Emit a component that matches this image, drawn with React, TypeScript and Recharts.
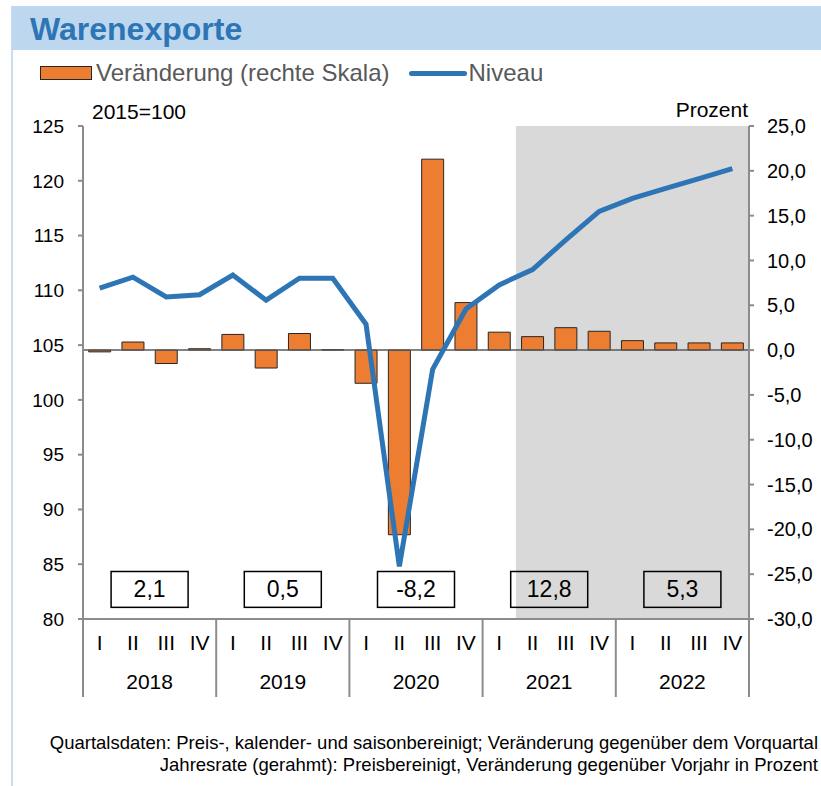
import {
  ComposedChart,
  Bar,
  Line,
  XAxis,
  YAxis,
  ReferenceArea,
  ReferenceLine,
} from 'recharts';

const years = ['2018', '2019', '2020', '2021', '2022'];
const quarters = ['I', 'II', 'III', 'IV'];

// Niveau, 2015=100 (linke Skala)
const niveau = [
  110.2, 111.2, 109.4, 109.6,
  111.4, 109.1, 111.1, 111.1,
  106.9, 84.8, 102.8, 108.3,
  110.5, 111.9, 114.6, 117.2,
  118.4, 119.3, 120.2, 121.1,
];

// Veränderung gg. Vorquartal in % (rechte Skala)
const veraenderung = [
  -0.2, 0.9, -1.5, 0.15,
  1.75, -2.0, 1.85, 0.05,
  -3.7, -20.6, 21.3, 5.3,
  2.0, 1.5, 2.5, 2.1,
  1.05, 0.8, 0.8, 0.8,
];

// Jahresrate (gerahmt)
const jahresrate = ['2,1', '0,5', '-8,2', '12,8', '5,3'];

const leftTicks = [80, 85, 90, 95, 100, 105, 110, 115, 120, 125];
const rightTicks = [-30, -25, -20, -15, -10, -5, 0, 5, 10, 15, 20, 25];

// Prognosezeitraum (grau hinterlegt)
const forecastFrom = '2021 II';
const forecastTo = '2022 IV';

const data = years.flatMap((y, yi) =>
  quarters.map((q, qi) => ({
    key: `${y} ${q}`,
    year: y,
    quarter: q,
    niveau: niveau[yi * 4 + qi],
    chg: veraenderung[yi * 4 + qi],
  }))
);

const FONT = '"Liberation Sans", Arial, sans-serif';
const BAND = 666 / data.length;
const AXIS_GREY = '#8c8c8c';

const fmtComma = (v: number) => v.toFixed(1).replace('.', ',');

function QuarterTick(props: any) {
  const { x, y, index } = props;
  const d = data[index];
  if (!d) return null;
  const half = BAND / 2;
  return (
    <g>
      <text x={x} y={y + 31} textAnchor="middle" fontSize={21} fill="#000" fontFamily={FONT}>
        {d.quarter}
      </text>
      {index % 4 === 0 && (
        <line x1={x - half} x2={x - half} y1={y} y2={y + 78} stroke={AXIS_GREY} strokeWidth={2} />
      )}
      {index === data.length - 1 && (
        <line x1={x + half} x2={x + half} y1={y} y2={y + 78} stroke={AXIS_GREY} strokeWidth={2} />
      )}
      {index % 4 === 1 && (
        <text x={x + half} y={y + 70} textAnchor="middle" fontSize={21} fill="#000" fontFamily={FONT}>
          {d.year}
        </text>
      )}
    </g>
  );
}

function RateBox(label: string) {
  return (props: any) => {
    const { x, y, width, height } = props;
    const cx = x + width / 2;
    return (
      <g>
        <rect x={cx - 38.5} y={y} width={77} height={height} fill="none" stroke="#000" strokeWidth={1.5} />
        <text
          x={cx}
          y={y + height / 2 + 8}
          textAnchor="middle"
          fontSize={23}
          fill="#000"
          fontFamily={FONT}
        >
          {label}
        </text>
      </g>
    );
  };
}

export default function App() {
  return (
    <div style={{ position: 'relative', width: 821, height: 786, background: '#fff', fontFamily: FONT }}>
      <style>{'body{margin:0}'}</style>
      <div style={{ position: 'absolute', left: 11, top: 6, width: 2, height: 780, background: '#c9dcf0' }} />
      <div
        style={{
          position: 'absolute',
          left: 12,
          top: 6,
          width: 809,
          height: 44,
          background: '#BDD7EE',
        }}
      >
        <div
          style={{
            position: 'absolute',
            left: 18,
            top: 5,
            fontSize: 32,
            fontWeight: 700,
            color: '#2E75B6',
            lineHeight: '36px',
          }}
        >
          Warenexporte
        </div>
      </div>

      {/* legend */}
      <div style={{ position: 'absolute', left: 40, top: 60, height: 26, display: 'flex', alignItems: 'center' }}>
        <div style={{ width: 50, height: 12, background: '#ED7D31', border: '1px solid #262626' }} />
        <span style={{ fontSize: 24, color: '#595959', marginLeft: 4 }}>Veränderung (rechte Skala)</span>
        <div style={{ width: 58, height: 5, background: '#2E75B6', marginLeft: 19, borderRadius: 3 }} />
        <span style={{ fontSize: 24, color: '#595959', marginLeft: 2 }}>Niveau</span>
      </div>

      <div style={{ position: 'absolute', left: 92, top: 100, fontSize: 21, color: '#000' }}>2015=100</div>
      <div style={{ position: 'absolute', right: 73, top: 98, fontSize: 21, color: '#000' }}>Prozent</div>

      <div style={{ position: 'absolute', left: 0, top: 0 }}>
        <ComposedChart
          width={821}
          height={786}
          data={data}
          margin={{ top: 126, right: 12, bottom: 89, left: 23 }}
          barCategoryGap="17%"
        >
          <XAxis
            dataKey="key"
            xAxisId={0}
            interval={0}
            tickLine={false}
            tickSize={0}
            tickMargin={0}
            height={78}
            axisLine={{ stroke: AXIS_GREY, strokeWidth: 2 }}
            tick={<QuarterTick />}
          />
          <YAxis
            yAxisId="left"
            orientation="left"
            domain={[80, 125]}
            ticks={leftTicks}
            width={60}
            tickSize={5}
            tickMargin={14}
            tickLine={{ stroke: AXIS_GREY, strokeWidth: 2 }}
            axisLine={{ stroke: AXIS_GREY, strokeWidth: 2 }}
            tick={{ fontSize: 19, fill: '#000', fontFamily: FONT }}
          />
          <YAxis
            yAxisId="right"
            orientation="right"
            domain={[-30, 25]}
            ticks={rightTicks}
            width={60}
            tickSize={5}
            tickMargin={13}
            tickFormatter={fmtComma}
            tickLine={{ stroke: AXIS_GREY, strokeWidth: 2 }}
            axisLine={{ stroke: AXIS_GREY, strokeWidth: 2 }}
            tick={{ fontSize: 20, fill: '#000', fontFamily: FONT }}
          />
          <ReferenceArea
            x1={forecastFrom}
            x2={forecastTo}
            yAxisId="right"
            y1={-30}
            y2={25}
            fill="#D9D9D9"
            fillOpacity={1}
            stroke="none"
          />
          <ReferenceLine y={0} yAxisId="right" stroke="#595959" strokeWidth={1.5} />
          <Bar
            dataKey="chg"
            yAxisId="right"
            fill="#ED7D31"
            stroke="#262626"
            strokeWidth={1}
            isAnimationActive={false}
          />
          <Line
            dataKey="niveau"
            yAxisId="left"
            type="linear"
            stroke="#2E75B6"
            strokeWidth={5}
            dot={false}
            activeDot={false}
            isAnimationActive={false}
          />
          {years.map((y, i) => (
            <ReferenceArea
              key={y}
              x1={`${y} II`}
              x2={`${y} III`}
              yAxisId="right"
              y1={-28.7}
              y2={-24.7}
              shape={RateBox(jahresrate[i])}
            />
          ))}
        </ComposedChart>
      </div>

      <div
        style={{
          position: 'absolute',
          right: 3,
          top: 732,
          fontSize: 18.5,
          color: '#000',
          textAlign: 'right',
          lineHeight: '22px',
          whiteSpace: 'nowrap',
        }}
      >
        Quartalsdaten: Preis-, kalender- und saisonbereinigt; Veränderung gegenüber dem Vorquartal
        <br />
        Jahresrate (gerahmt): Preisbereinigt, Veränderung gegenüber Vorjahr in Prozent
      </div>
    </div>
  );
}
